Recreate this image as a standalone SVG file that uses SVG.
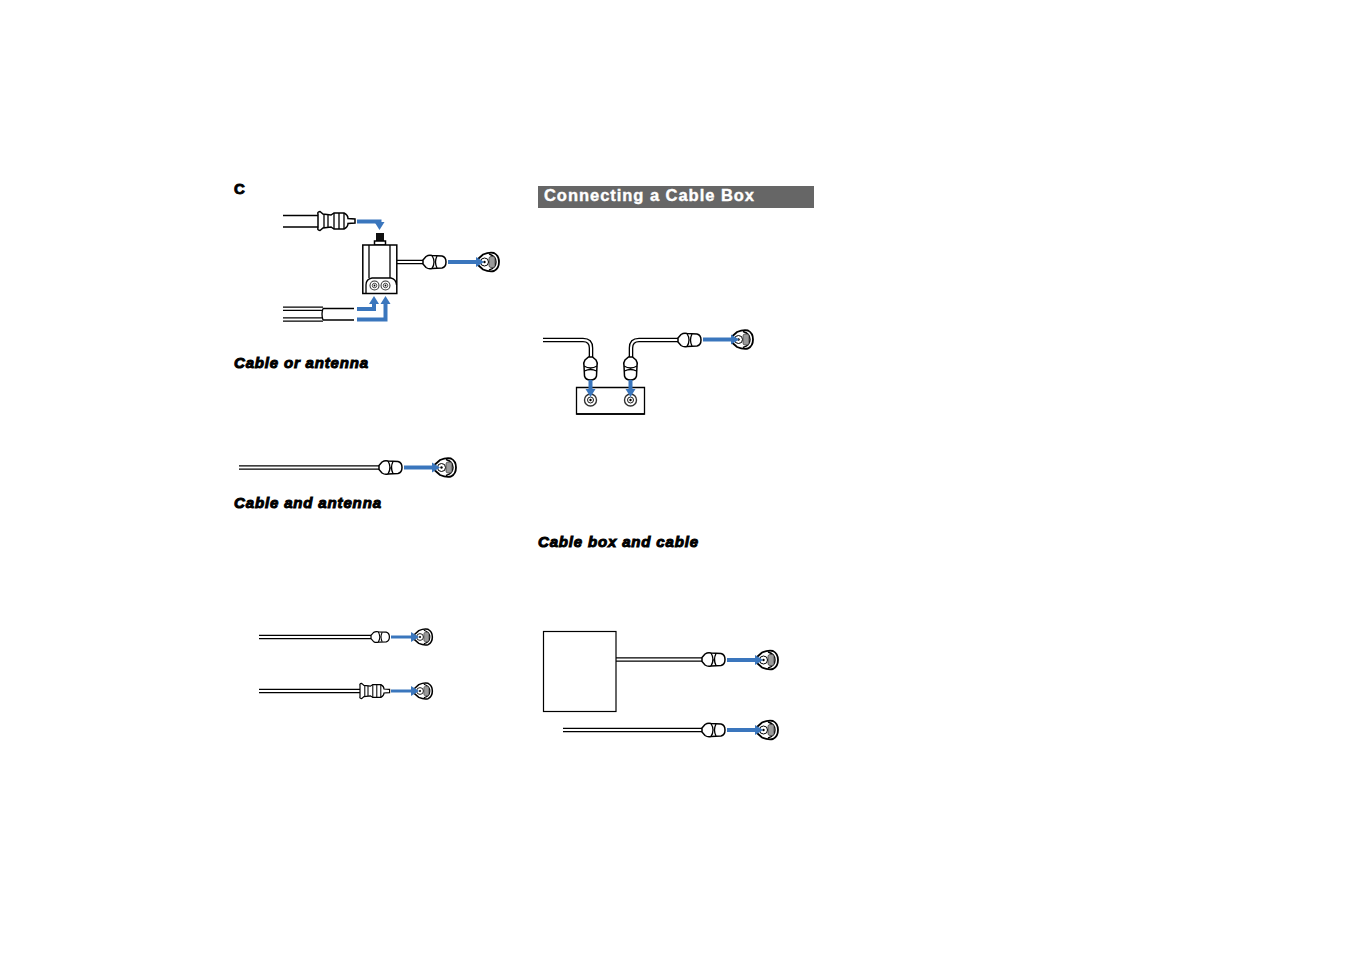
<svg xmlns="http://www.w3.org/2000/svg" xmlns:xlink="http://www.w3.org/1999/xlink" width="1348" height="954" viewBox="0 0 1348 954">
<style>
.lbl{font-family:"Liberation Sans",Arial,sans-serif;font-weight:bold;font-style:italic;font-size:15px;fill:#000;stroke:#000;stroke-width:1px}
.ttl{font-family:"Liberation Sans",Arial,sans-serif;font-weight:bold;font-size:16.500px;fill:#fff;stroke:#fff;stroke-width:.4px}
.ln{fill:none;stroke:#000;stroke-width:1.300}
.sh{fill:#fff;stroke:#000;stroke-width:1.500}
.ca{fill:none;stroke:#000;stroke-width:4.600}
.ci{fill:none;stroke:#fff;stroke-width:2}
.ar{fill:none;stroke:#3a76bd;stroke-width:4;marker-end:url(#ah)}
.as{fill:none;stroke:#3a76bd;stroke-width:3;marker-end:url(#ah)}
</style>
<defs>
<marker id="ah" markerUnits="userSpaceOnUse" markerWidth="9" markerHeight="11" refX="1" refY="5.500" orient="auto"><path d="M0,.5 L8,5.500 L0,10.500Z" fill="#3a76bd"/></marker>
<g id="plug">
<path class="sh" d="M0,-2 L3,-5.500 Q6,-7.500 9,-6.500 L19,-6 Q23,-5 23,0 Q23,5 19,6 L9,6.500 Q6,7.500 3,5.500 L0,2Z"/>
<path class="ln" d="M9,-6.500 Q13,0 9,6.500 M14,-6 Q11,0 14,6"/>
</g>
<g id="jack">
<path fill="#fff" stroke="#000" stroke-width="1.800" d="M-10,-3 L-5,-7.500 Q1,-10 6,-9 Q11,-6.500 11,0 Q11,6.500 6,9 Q1,10 -5,7.500 L-10,3Z"/>
<path fill="none" stroke="#000" stroke-width="1.400" d="M1,-8 Q8,-6 8,0 Q8,6 1,8"/>
<rect x="1" y="-5.500" width="6" height="11" rx="2" fill="#9a9a9a" stroke="#444" stroke-width=".8"/>
<circle cx="-3.500" cy="0" r="4" fill="#fff" stroke="#000"/>
<circle cx="-3.500" cy="0" r="1.200" fill="#000"/>
</g>
<g id="fplug">
<path class="sh" d="M0,-7 Q-1,-9 2,-9.500 L5,-7 L13,-6 L16,-8 L26,-8 Q30,-6 30,-2.500 L37,-2 L37,2 L30,2.500 Q30,6 26,8 L16,8 L13,6 L5,7 L2,9.500 Q-1,9 0,7Z"/>
<path class="ln" d="M6,-7 V7 M10,-6.500 V6.500 M16,-8 V8 M21,-8 V8 M26,-8 V8"/>
</g>
<g id="panelJack">
<circle r="6" fill="#fff" stroke="#333" stroke-width="1.400"/>
<circle r="3" fill="#fff" stroke="#000" stroke-width=".9"/>
<circle r="1.200" fill="#000"/>
</g>
</defs>
<rect width="1348" height="954" fill="#fff"/>

<g id="labels">
<text x="234" y="194" font-family="Liberation Sans,Arial,sans-serif" font-weight="bold" font-size="15" stroke="#000" stroke-width=".9">C</text>
<text class="lbl" x="234" y="368" textLength="134">Cable or antenna</text>
<text class="lbl" x="234" y="508" textLength="147">Cable and antenna</text>
<text class="lbl" x="538" y="547" textLength="160">Cable box and cable</text>
</g>
<g id="heading">
<rect x="538" y="186" width="276" height="22" fill="#666"/>
<text class="ttl" x="544" y="201" textLength="210">Connecting a Cable Box</text>
</g>

<g id="cables">
<path class="ca" d="M397,262H424 M239,467.500H380 M259,637H372 M259,691H360 M616,659.500H703 M563,730H703"/>
<path class="ci" d="M397,262H424 M239,467.500H380 M259,637H372 M259,691H360 M616,659.500H703 M563,730H703"/>
<path class="ca" d="M543,340H583Q591,340 591,348V358 M631,358V348Q631,340 639,340H679"/>
<path class="ci" d="M543,340H583Q591,340 591,348V358 M631,358V348Q631,340 639,340H679"/>
</g>

<g id="top-coax">
<path class="ln" d="M283,215.500H319 M283,227H319"/>
<use xlink:href="#fplug" href="#fplug" x="318" y="221"/>
</g>
<g id="top-flat-cable">
<path class="ca" d="M283,308.800H323"/><path class="ci" d="M283,308.800H323"/>
<path class="ca" d="M283,319.500H323"/><path class="ci" d="M283,319.500H323"/>
<path class="ln" d="M323,308.500Q321,314 323,320 M323,308.500H354 M323,320H354"/>
</g>
<g id="matching-transformer">
<rect x="376" y="233" width="8" height="9" fill="#111"/>
<rect x="374.500" y="241" width="11" height="4" class="sh"/>
<rect x="362.800" y="245" width="34" height="48.500" class="sh"/>
<path class="ln" d="M369,245V278 M390,245V278"/>
<path class="ln" d="M366,293V285Q366,279 372,278H391Q396,279 396.500,285"/>
<use xlink:href="#panelJack" href="#panelJack" transform="translate(374.500,285.500) scale(.75)"/>
<use xlink:href="#panelJack" href="#panelJack" transform="translate(385.500,285.500) scale(.75)"/>
</g>
<g id="top-plug"><use xlink:href="#plug" href="#plug" x="423" y="262"/></g>
<g id="top-jack"><use xlink:href="#jack" href="#jack" x="488" y="262"/></g>

<g id="antenna-plug"><use xlink:href="#plug" href="#plug" x="379" y="467.500"/></g>
<g id="antenna-jack"><use xlink:href="#jack" href="#jack" x="445" y="467.500"/></g>

<g id="small-plug"><use xlink:href="#plug" href="#plug" transform="translate(371,637) scale(.8)"/></g>
<g id="small-jack-1"><use xlink:href="#jack" href="#jack" transform="translate(423,637) scale(.85)"/></g>
<g id="small-fplug"><use xlink:href="#fplug" href="#fplug" transform="translate(360,691) scale(.8)"/></g>
<g id="small-jack-2"><use xlink:href="#jack" href="#jack" transform="translate(423,691) scale(.85)"/></g>

<g id="box-plug-1"><use xlink:href="#plug" href="#plug" transform="translate(590.500,357) rotate(90)"/></g>
<g id="box-plug-2"><use xlink:href="#plug" href="#plug" transform="translate(630.500,357) rotate(90)"/></g>
<g id="box-plug-3"><use xlink:href="#plug" href="#plug" x="678" y="340"/></g>
<g id="box-jack"><use xlink:href="#jack" href="#jack" x="742" y="339.500"/></g>
<g id="cable-box-panel">
<path fill="#fff" stroke="#000" stroke-width="1.300" d="M576.500,387.500H644.500V414H576.500Z"/>
<path class="ln" d="M576.500,414H644.500"/>
<use xlink:href="#panelJack" href="#panelJack" x="590.500" y="400"/>
<use xlink:href="#panelJack" href="#panelJack" x="630.500" y="400"/>
</g>

<g id="cable-box"><rect x="543.500" y="631.500" width="72.500" height="80" class="sh" style="stroke-width:1.200"/></g>
<g id="bottom-plug-1"><use xlink:href="#plug" href="#plug" x="702" y="659.500"/></g>
<g id="bottom-jack-1"><use xlink:href="#jack" href="#jack" x="767" y="660"/></g>
<g id="bottom-plug-2"><use xlink:href="#plug" href="#plug" x="702" y="730"/></g>
<g id="bottom-jack-2"><use xlink:href="#jack" href="#jack" x="767" y="730"/></g>

<g id="connectors">
<path class="ar" d="M357,221.500H379.500V223"/>
<path class="ar" d="M448,262H477"/>
<path class="ar" d="M357,309H374V303"/>
<path class="ar" d="M357,319.500H385.500V303"/>
<path class="ar" d="M404,467.500H433"/>
<path class="ar" d="M703,339.500H732"/>
<path class="ar" d="M590.500,380V390"/>
<path class="ar" d="M630.500,380V390"/>
<path class="as" d="M391,637H412"/>
<path class="as" d="M391,691H412"/>
<path class="ar" d="M727,660H756"/>
<path class="ar" d="M727,730H756"/>
</g>
</svg>
